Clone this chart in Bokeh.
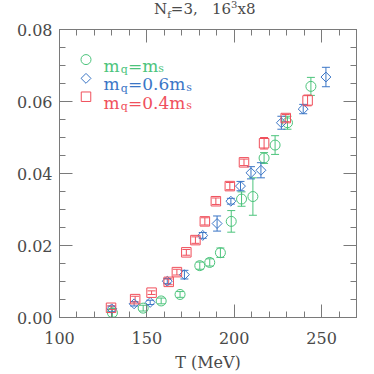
from bokeh.plotting import figure
from bokeh.models import (ColumnDataSource, Whisker, TeeHead, LinearAxis, FixedTicker,
                          PrintfTickFormatter, Label, Range1d, CustomLabelingPolicy, Div)
from bokeh.layouts import column
from bokeh.embed import file_html
from bokeh.resources import INLINE

# ---------------- data ----------------
T_ms = [130.3, 147.9, 158.2, 169.0, 180.3, 186.0, 192.1, 198.3, 204.2, 210.7, 217.1, 223.4, 230.5, 243.9]
v_ms = [0.0013, 0.0026, 0.0046, 0.0064, 0.0144, 0.0153, 0.0180, 0.0267, 0.0329, 0.0336, 0.0443, 0.0479, 0.0541, 0.0642]
e_ms = [0.0012, 0.0008, 0.0008, 0.0008, 0.0010, 0.0010, 0.0013, 0.0030, 0.0020, 0.0052, 0.0015, 0.0026, 0.0018, 0.0025]

T_06 = [129.9, 142.7, 151.9, 161.7, 171.5, 182.0, 190.2, 198.1, 203.6, 209.6, 215.3, 227.0, 239.5, 252.5]
v_06 = [0.0024, 0.0038, 0.0042, 0.0101, 0.0119, 0.0228, 0.0261, 0.0323, 0.0365, 0.0402, 0.0409, 0.0541, 0.0579, 0.0668]
e_06 = [0.0008, 0.0006, 0.0006, 0.0007, 0.0012, 0.0008, 0.0021, 0.0008, 0.0013, 0.0017, 0.0021, 0.0018, 0.0013, 0.0027]

T_04 = [129.5, 143.3, 152.7, 162.5, 167.2, 172.6, 177.8, 183.2, 189.5, 197.5, 205.6, 217.1, 229.5, 242.0]
v_04 = [0.0027, 0.0051, 0.0069, 0.0099, 0.0126, 0.0181, 0.0215, 0.0267, 0.0323, 0.0365, 0.0431, 0.0484, 0.0554, 0.0603]
e_04 = [0.0005, 0.0008, 0.0005, 0.0008, 0.0008, 0.0008, 0.0009, 0.0010, 0.0009, 0.0010, 0.0009, 0.0016, 0.0010, 0.0015]

x_major = [100, 150, 200, 250]
x_minor = list(range(100, 271, 10))
y_major = [0.0, 0.02, 0.04, 0.06, 0.08]
y_minor = [i * 0.005 for i in range(17)]

X0, X1, Y0, Y1 = 100, 270, 0.0, 0.08

# ---------------- styling ----------------
GREEN = "#4cc47c"
BLUE = "#3b76c6"
RED = "#f0505c"
AXC = "#7a7a7a"
TXT = "#4a4a4a"
FONT = "DejaVu Serif"

DIVH = 18                           # height of the title strip
FL, FT, FW, FH = 59, 29, 297, 290   # frame position in page pixels
BL, BT, BR, BB = FL, FT - DIVH, 10, 55
W = BL + FW + BR


def dx(px):
    return X0 + (px - FL) * (X1 - X0) / FW


def dy(py):
    return Y1 - (py - FT) * (Y1 - Y0) / FH


p = figure(width=W, height=BT + FH + BB, output_backend="svg", toolbar_location=None,
           x_range=Range1d(X0, X1), y_range=Range1d(Y0, Y1), margin=0,
           min_border_left=BL, min_border_right=BR, min_border_top=BT, min_border_bottom=BB)
p.xgrid.visible = False
p.ygrid.visible = False
p.outline_line_color = AXC
p.background_fill_color = "white"
p.border_fill_color = "white"

no_labels = CustomLabelingPolicy(code="return new Set()")


def style_axis(ax, ticks, minor, labels=True):
    ax.ticker = FixedTicker(ticks=ticks, minor_ticks=minor)
    ax.axis_line_color = AXC
    ax.major_tick_line_color = AXC
    ax.minor_tick_line_color = AXC
    ax.major_tick_in = 13
    ax.major_tick_out = 0
    ax.minor_tick_in = 6
    ax.minor_tick_out = 0
    ax.major_label_text_font = FONT
    ax.major_label_text_color = TXT
    ax.major_label_text_font_size = "16px"
    if not labels:
        ax.formatter = PrintfTickFormatter(format="")
        ax.major_label_policy = no_labels
        ax.major_label_text_font_size = "1px"
        ax.major_label_standoff = 0


style_axis(p.xaxis[0], x_major, x_minor)
style_axis(p.yaxis[0], y_major, y_minor)
p.yaxis[0].formatter = PrintfTickFormatter(format="%.2f")
p.yaxis[0].major_label_standoff = 7
p.xaxis[0].major_label_standoff = 14
p.xaxis[0].axis_label = "T (MeV)"
p.xaxis[0].axis_label_text_font = FONT
p.xaxis[0].axis_label_text_font_style = "normal"
p.xaxis[0].axis_label_text_font_size = "16px"
p.xaxis[0].axis_label_text_color = TXT
p.xaxis[0].axis_label_standoff = 6

top_ax = LinearAxis()
right_ax = LinearAxis()
style_axis(top_ax, x_major, x_minor, labels=False)
style_axis(right_ax, y_major, y_minor, labels=False)
p.add_layout(top_ax, "above")
p.add_layout(right_ax, "right")

# ---------------- series ----------------
series = [
    (T_ms, v_ms, e_ms, GREEN, "circle", 10, 0.0),
    (T_06, v_06, e_06, BLUE, "square", 7, 0.785398),
    (T_04, v_04, e_04, RED, "square", 9.5, 0.0),
]
for T, v, e, col, mk, sz, ang in series:
    src = ColumnDataSource(dict(x=T, y=v,
                                lo=[a - b for a, b in zip(v, e)],
                                hi=[a + b for a, b in zip(v, e)]))
    w = Whisker(base="x", lower="lo", upper="hi", source=src, line_color=col, line_width=1,
                upper_head=TeeHead(size=8, line_color=col, line_width=1),
                lower_head=TeeHead(size=8, line_color=col, line_width=1))
    p.add_layout(w)
    p.scatter("x", "y", source=src, marker=mk, size=sz, angle=ang, fill_color=None,
              line_color=col, line_width=1)


def put(text, px, py, size, color):
    p.add_layout(Label(x=dx(px), y=dy(py), text=text, text_font=FONT,
                       text_font_size=f"{size}px", text_color=color,
                       text_baseline="alphabetic", text_align="left"))


# ---------------- legend ----------------
leg = [
    ("=m", GREEN, "circle", 10, 0.0, 59.3, 65.7, 157.8),
    ("=0.6m", BLUE, "square", 7, 0.785398, 78.2, 84.2, 185.8),
    ("=0.4m", RED, "square", 9.5, 0.0, 96.7, 102.7, 185.8),
]
for txt, col, mk, sz, ang, my, base, sx in leg:
    p.scatter(x=[dx(85.5)], y=[dy(my)], marker=mk, size=sz, angle=ang, fill_color=None,
              line_color=col, line_width=1)
    put("m", 103.0, base, 17, col)
    put("q", 120.3, base + 4, 11, col)
    put(txt, 127.5, base, 17, col)
    put("s", sx, base + 3, 11, col)

# ---------------- title (HTML strip above the plot) ----------------
title_html = (
    f'<div style="margin-left:154px;padding-top:1px;white-space:nowrap;font-family:\'DejaVu Serif\';'
    f'font-size:15px;line-height:17px;color:{TXT};">'
    'N<sub style="font-size:10px;line-height:0;">f</sub>=3,&nbsp;&nbsp;&nbsp;16'
    '<sup style="font-size:10px;line-height:0;">3</sup>x8</div>'
)
title = Div(text=title_html, width=W, height=DIVH, margin=0)

layout = column(title, p, spacing=0)

open("out.html", "w").write(file_html(layout, INLINE))
